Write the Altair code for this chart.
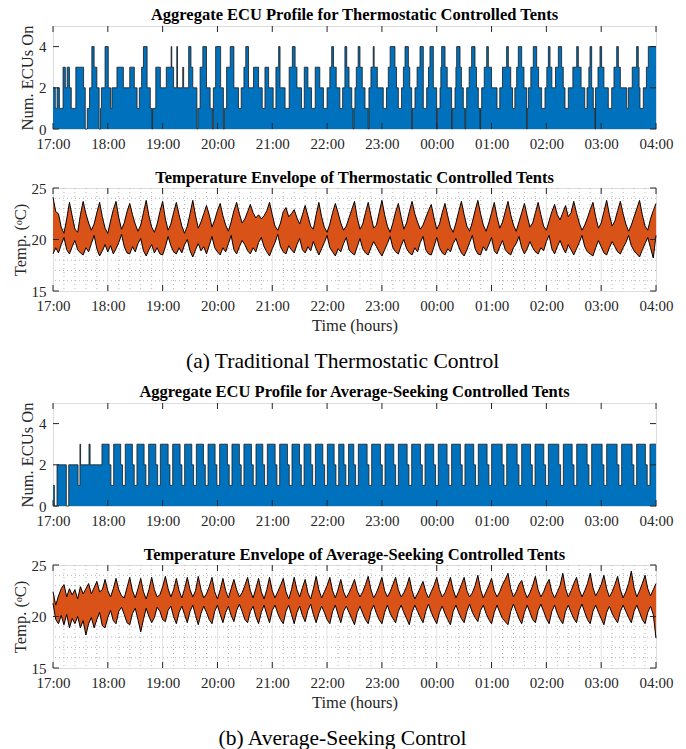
import json
import altair as alt
import pandas as pd

# ---------------- data ----------------
hour_ticks = [0, 60, 120, 180, 240, 300, 360, 420, 480, 540, 600, 660]
hour_labels = ["17:00", "18:00", "19:00", "20:00", "21:00", "22:00",
               "23:00", "00:00", "01:00", "02:00", "03:00", "04:00"]
ecu_ticks = [0, 2, 4]
temp_ticks = [15, 20, 25]
minor_x = [m for m in range(12, 660, 12) if m % 60]
minor_y = [16, 17, 18, 19, 21, 22, 23, 24]

titles = ["Aggregate ECU Profile for Thermostatic Controlled Tents",
          "Temperature Envelope of Thermostatic Controlled Tents",
          "Aggregate ECU Profile for Average-Seeking Controlled Tents",
          "Temperature Envelope of Average-Seeking Controlled Tents"]
captions = ["(a) Traditional Thermostatic Control", "(b) Average-Seeking Control"]

# ECU profile (a): change times (minutes after 17:00) and number of ECUs on
ecu_a_t = [0, 2.5, 4.5, 7, 11, 13.5, 15.5, 18, 20, 25, 33.5, 35.3, 37.5, 40, 42.5, 45, 48, 50.5, 52, 53,
           57, 60.5, 63, 64.5, 70, 77, 84, 89, 92, 94.5, 97, 99, 103, 106.5, 108.3, 109, 112.5, 117.5,
           124, 129.3, 130, 132, 135.5, 136.3, 142, 143, 148.5, 151, 153, 157.5, 158.5, 161, 164, 168,
           172, 174.5, 175.5, 178, 183.5, 186.5, 187.5, 190, 194, 198, 203, 206, 209, 211, 214, 219.5,
           225, 229, 232, 236, 241, 244, 247, 248.5, 254, 258.5, 262, 265, 267, 272, 275, 279, 283, 287,
           292, 296, 300, 303, 305, 307, 310, 314, 317, 319.5, 321.5, 324, 327, 328.5, 329.3, 330.5, 332,
           334, 336, 338.5, 341.5, 345, 345.8, 348, 350.5, 351.5, 355, 361.5, 365, 367, 369, 374.3, 376,
           378, 381.5, 383.5, 385.3, 389, 390.5, 392.6, 393.3, 396.2, 398.5, 401.7, 405.3, 409, 411,
           412.6, 416.3, 419.9, 420.6, 423.6, 424.5, 425.4, 429.1, 431.5, 436.3, 437, 440, 441, 441.8,
           445.5, 447, 449.1, 451, 451.7, 452.8, 455.5, 458.2, 461.9, 463.5, 465.5, 467.4, 468, 469.2,
           472, 474.7, 476.5, 480, 486, 489, 492, 496.5, 498.4, 501, 503, 505.5, 507.5, 509.3, 513,
           515.5, 518.4, 519, 520.3, 523, 525.7, 529.4, 531.5, 534.8, 538.5, 540.5, 542.2, 544, 546,
           550, 553.1, 556.7, 558.5, 560.4, 564, 569, 573.2, 575, 578, 582, 584.5, 586.5, 587.8, 589.6,
           591.4, 593.2, 593.8, 596.5, 598.7, 600.5, 603, 607.8, 611.5, 614, 617, 618.8, 621, 627.9,
           629.7, 634, 638.8, 640.6, 641.5, 642.5, 646.1, 649.5, 651.6]
ecu_a_v = [2, 1, 2, 1, 3, 2, 3, 2, 1, 3, 2, 0, 1, 2, 4, 3, 2, 0, 1, 2,
           4, 2, 1, 2, 3, 2, 3, 2, 1, 2, 3, 4, 2, 1, 0, 1, 3, 2,
           3, 4, 3, 2, 4, 2, 3, 2, 4, 3, 2, 0, 1, 3, 4, 2,
           1, 0, 2, 4, 2, 0, 1, 3, 4, 2, 1, 2, 3, 4, 2, 3,
           2, 1, 3, 2, 1, 3, 4, 2, 1, 3, 4, 3, 2, 1, 3, 2, 1, 3,
           2, 1, 2, 3, 4, 3, 2, 1, 2, 4, 3, 2, 1, 0, 1, 2, 3,
           4, 3, 2, 1, 0, 2, 3, 4, 3, 2, 1, 2, 3, 4, 3, 2,
           1, 2, 3, 4, 3, 2, 0, 1, 2, 3, 4, 1, 2, 3,
           4, 2, 0, 1, 2, 3, 4, 3, 2, 0, 1, 2, 3, 4,
           3, 2, 1, 0, 1, 2, 3, 4, 3, 2, 1, 0, 1, 2,
           3, 4, 3, 2, 1, 2, 3, 4, 3, 2, 1, 2, 3, 4, 3,
           2, 0, 1, 2, 3, 4, 3, 2, 1, 2, 3, 4, 3, 2,
           3, 4, 3, 2, 1, 2, 3, 4, 3, 2, 1, 2, 3, 4, 2,
           1, 0, 2, 3, 4, 3, 2, 1, 2, 3, 4, 3, 2, 1,
           2, 3, 4, 3, 2, 1, 2, 3, 4]

# Temperature envelope (a): upper / lower bound every 3 minutes from 17:00 (deg C)
temp_a_hi = [24.1, 22.7, 22.5, 21.2, 20.6, 22.0, 23.6, 22.3, 21.0, 20.7, 22.4, 23.7, 22.5, 21.6, 20.9, 21.5, 22.6, 23.6, 22.2, 21.1,
             20.6, 21.8, 22.9, 23.7, 22.1, 21.0, 21.6, 22.7, 23.5, 22.4, 21.5, 20.8, 21.4, 22.6, 23.8, 22.3, 21.2, 20.7, 21.5, 22.7,
             23.7, 22.0, 20.9, 21.5, 22.6, 23.6, 22.4, 21.3, 20.6, 21.3, 22.5, 23.8, 22.3, 21.1, 21.7, 22.5, 23.3, 22.4, 21.2, 21.9,
             22.8, 23.5, 22.3, 21.4, 20.8, 21.7, 22.8, 23.6, 22.5, 21.6, 22.0, 22.7, 23.4, 22.6, 22.1, 22.4, 22.0, 22.3, 22.8, 23.6,
             22.4, 21.3, 20.9, 21.6, 22.7, 23.1, 22.2, 22.5, 22.9, 22.1, 21.5, 22.4, 23.3, 22.3, 21.3, 21.0, 22.4, 23.6, 22.2, 21.2,
             20.7, 21.5, 22.6, 23.5, 22.6, 21.6, 20.9, 21.3, 22.1, 22.9, 23.7, 22.1, 21.0, 21.5, 22.6, 23.6, 22.3, 21.1, 21.4, 22.6,
             23.8, 22.4, 21.3, 20.7, 21.6, 22.7, 23.5, 22.2, 21.0, 21.6, 22.7, 23.7, 22.5, 21.7, 21.0, 21.4, 22.1, 22.8, 23.4, 22.1,
             21.0, 21.5, 22.6, 23.5, 22.3, 21.2, 20.7, 21.6, 22.7, 23.7, 22.4, 21.3, 20.8, 21.7, 22.8, 23.8, 22.5, 21.4, 20.8, 21.6,
             22.6, 23.6, 22.2, 21.1, 21.7, 22.7, 23.7, 22.4, 21.4, 20.8, 21.7, 22.6, 23.5, 22.3, 21.2, 21.6, 22.6, 23.6, 22.4, 21.3,
             20.9, 21.8, 22.7, 23.4, 22.4, 21.9, 22.6, 23.3, 22.2, 22.6, 23.7, 22.6, 21.6, 20.9, 21.4, 22.1, 22.9, 23.6, 22.2, 21.1,
             21.6, 22.7, 23.8, 22.4, 21.3, 21.8, 22.8, 23.7, 22.5, 21.5, 20.8, 21.4, 22.2, 23.0, 23.8, 22.4, 21.3, 20.9, 22.0, 22.8,
             23.5]
temp_a_lo = [18.6, 19.2, 18.7, 19.5, 20.2, 19.0, 18.6, 19.3, 19.9, 19.0, 18.7, 18.5, 19.2, 18.8, 19.6, 20.4, 19.1, 18.4, 18.9, 19.5,
             18.8, 19.4, 18.6, 19.1, 19.7, 20.5, 19.3, 18.7, 18.6, 19.3, 18.8, 19.6, 20.1, 18.9, 18.4, 19.0, 19.5, 18.7, 19.2, 18.6,
             18.5, 19.3, 20.3, 19.4, 18.8, 18.6, 19.2, 18.7, 19.5, 20.0, 18.9, 18.3, 19.0, 19.6, 18.9, 19.3, 18.6, 19.4, 20.3, 19.2,
             18.8, 18.5, 19.2, 18.8, 19.6, 20.4, 19.0, 18.6, 19.3, 19.9, 19.5, 18.9, 18.6, 19.2, 18.8, 19.7, 20.2, 19.3, 18.8, 18.4,
             19.1, 19.7, 20.5, 19.3, 18.8, 18.6, 19.4, 19.0, 18.7, 19.5, 20.1, 19.0, 18.7, 19.3, 18.9, 19.8, 19.1, 18.5, 19.1, 19.7,
             20.4, 19.2, 18.8, 18.4, 19.1, 18.8, 19.6, 20.2, 19.0, 18.7, 18.5, 19.3, 20.1, 19.1, 18.7, 18.5, 19.2, 19.8, 19.3, 18.8,
             18.4, 19.0, 19.6, 20.3, 19.2, 18.8, 18.6, 19.4, 20.0, 19.1, 18.7, 18.5, 19.2, 18.8, 19.7, 20.3, 19.0, 18.6, 18.5, 19.3,
             20.2, 19.2, 18.7, 18.5, 19.1, 18.8, 19.6, 20.1, 19.3, 18.7, 18.4, 19.0, 19.7, 20.4, 19.1, 18.6, 18.5, 19.3, 18.9, 19.5,
             20.2, 18.9, 18.6, 19.3, 19.9, 19.0, 18.7, 18.5, 19.2, 19.6, 20.3, 19.2, 18.6, 19.1, 19.8, 19.2, 18.8, 18.6, 19.2, 18.9,
             19.8, 20.4, 19.1, 18.6, 19.3, 19.9, 19.2, 18.7, 19.5, 19.0, 18.5, 19.1, 19.7, 20.4, 19.3, 18.8, 18.6, 18.4, 19.2, 19.9,
             19.3, 18.7, 18.5, 19.2, 19.8, 19.3, 18.8, 18.6, 19.2, 19.7, 20.4, 19.4, 18.9, 18.6, 18.3, 19.0, 19.6, 20.2, 19.2, 18.2,
             20.4]

# ECU profile (b): change times and number of ECUs on
ecu_b_t = [0, 1.5, 4.4, 14.6, 17.2, 27.4, 29.5, 30.2, 39.4, 40.6,
           53.6, 61.4, 63.4, 66.4, 74.1, 76.1, 79.1, 86.9, 88.9, 91.9, 99.7, 101.7,
           104.7, 112.5, 114.5, 117.5, 126.0, 128.0, 131.0, 139.1, 141.1, 144.1, 151.9, 153.9,
           156.9, 164.7, 166.7, 169.7, 177.4, 179.4, 182.4, 190.9, 192.9, 195.9, 204.0, 206.0,
           209.0, 217.2, 219.2, 222.2, 229.6, 231.6, 234.6, 243.1, 245.1, 248.1, 256.6, 258.6,
           261.6, 269.8, 271.8, 274.8, 282.2, 284.2, 287.2, 295.3, 297.3, 300.3, 307.7, 309.7,
           312.7, 318.5, 320.5, 323.5, 329.2, 331.2, 334.2, 343.8, 345.8, 348.8, 358.4, 360.4,
           363.4, 373.0, 375.0, 378.0, 387.6, 389.6, 392.6, 402.2, 404.2, 407.2, 416.7, 418.7,
           421.7, 431.3, 433.3, 436.3, 445.9, 447.9, 450.9, 460.5, 462.5, 465.5, 475.1, 477.1,
           480.1, 491.6, 493.6, 496.6, 508.0, 510.0, 513.0, 522.6, 524.6, 527.6, 537.2, 539.2,
           542.2, 553.6, 555.6, 558.6, 568.2, 570.2, 573.2, 584.6, 586.6, 589.6, 601.0, 603.0,
           606.0, 617.4, 619.4, 622.4, 633.8, 635.8, 638.8, 648.4, 650.4, 653.4]
ecu_b_v = [1, 0, 2, 0, 2, 1, 3, 2, 3, 2,
           3, 2, 1, 3, 2, 1, 3, 2, 1, 3, 2, 1,
           3, 2, 1, 3, 2, 1, 3, 2, 1, 3, 2, 1,
           3, 2, 1, 3, 2, 1, 3, 2, 1, 3, 2, 1,
           3, 2, 1, 3, 2, 1, 3, 2, 1, 3, 2, 1,
           3, 2, 1, 3, 2, 1, 3, 2, 1, 3, 2, 1,
           3, 2, 1, 3, 2, 1, 3, 2, 1, 3, 2, 1,
           3, 2, 1, 3, 2, 1, 3, 2, 1, 3, 2, 1,
           3, 2, 1, 3, 2, 1, 3, 2, 1, 3, 2, 1,
           3, 2, 1, 3, 2, 1, 3, 2, 1, 3, 2, 1,
           3, 2, 1, 3, 2, 1, 3, 2, 1, 3, 2, 1,
           3, 2, 1, 3, 2, 1, 3, 2, 1, 3]

# Temperature envelope (b): upper / lower bound every 3 minutes from 17:00 (deg C)
temp_b_hi = [22.4, 21.1, 22.0, 22.7, 23.1, 21.9, 22.7, 22.1, 22.6, 21.7, 22.9, 22.2, 22.7, 23.2, 22.2, 22.8, 23.4, 22.4, 22.6, 23.6,
             22.5, 21.9, 22.7, 23.7, 22.6, 22.0, 21.8, 22.8, 23.8, 22.5, 21.8, 22.7, 23.7, 22.4, 21.7, 22.6, 23.8, 22.6, 21.9, 22.1,
             22.9, 23.9, 22.7, 21.9, 22.6, 23.7, 22.5, 21.8, 22.7, 23.8, 22.6, 21.9, 22.5, 23.9, 22.6, 21.8, 22.2, 22.9, 23.8, 22.4,
             21.7, 22.6, 23.7, 22.5, 21.8, 22.7, 23.6, 22.6, 21.9, 22.3, 23.0, 23.8, 22.5, 21.8, 22.7, 23.7, 22.4, 21.7, 22.6, 23.8,
             22.5, 21.8, 22.4, 23.0, 23.7, 22.4, 21.7, 22.6, 23.8, 22.6, 21.9, 22.8, 23.6, 22.3, 21.7, 22.7, 23.9, 22.6, 21.8, 22.4,
             23.0, 23.8, 22.5, 21.8, 22.6, 23.6, 22.4, 21.8, 22.3, 22.9, 23.6, 22.5, 21.9, 22.4, 23.1, 23.9, 22.6, 21.8, 22.3, 23.0,
             23.8, 22.5, 21.9, 22.4, 23.1, 23.8, 22.6, 21.9, 22.3, 22.9, 23.8, 22.5, 21.7, 22.2, 22.8, 23.4, 22.4, 21.8, 22.4, 23.0,
             23.8, 22.6, 21.9, 22.3, 23.0, 23.8, 22.6, 21.8, 22.4, 23.1, 23.8, 22.5, 21.9, 22.3, 23.0, 24.0, 22.6, 21.8, 22.4, 23.0,
             23.7, 22.5, 21.9, 22.4, 23.1, 23.6, 24.2, 22.7, 21.9, 22.4, 23.1, 23.5, 22.5, 21.8, 22.3, 23.0, 23.9, 22.6, 21.9, 22.4,
             23.1, 23.6, 22.4, 21.8, 22.4, 23.0, 24.2, 22.7, 21.9, 22.5, 23.2, 23.8, 22.6, 21.9, 22.5, 23.2, 24.2, 22.8, 22.0, 22.5,
             23.1, 24.0, 22.7, 21.9, 22.4, 23.1, 23.9, 22.6, 21.8, 22.4, 23.2, 24.4, 22.8, 21.9, 22.5, 23.2, 24.0, 22.7, 22.0, 22.6,
             23.2]
temp_b_lo = [21.3, 19.7, 19.3, 20.1, 19.2, 20.2, 18.9, 19.8, 19.3, 20.0, 18.9, 19.6, 18.2, 19.3, 19.9, 18.9, 19.7, 20.4, 19.1, 18.9,
             19.9, 20.6, 19.6, 19.3, 20.5, 20.9, 20.2, 19.4, 19.2, 20.3, 20.8, 19.7, 18.5, 19.7, 20.8, 20.0, 19.4, 19.9, 20.9, 20.5,
             19.7, 19.5, 20.6, 21.0, 20.0, 19.3, 20.4, 21.0, 20.2, 19.4, 20.5, 21.1, 20.1, 19.2, 20.3, 21.0, 20.4, 19.7, 19.3, 20.5,
             21.1, 20.2, 19.4, 20.4, 21.0, 20.1, 19.5, 20.6, 21.2, 20.5, 19.7, 19.4, 20.5, 21.0, 20.0, 19.3, 20.4, 21.1, 20.2, 19.4,
             20.6, 21.1, 20.3, 19.7, 19.3, 20.5, 21.1, 20.2, 19.3, 20.4, 21.0, 20.1, 19.5, 20.6, 21.2, 20.2, 19.4, 20.3, 21.0, 20.4,
             19.7, 19.3, 20.5, 21.1, 20.2, 19.4, 20.5, 21.0, 20.4, 19.8, 19.2, 20.4, 21.0, 20.3, 19.7, 19.3, 20.5, 21.1, 20.3, 19.7,
             19.3, 20.4, 21.1, 20.3, 19.8, 19.4, 20.5, 21.1, 20.4, 19.8, 19.2, 20.4, 21.1, 20.5, 19.9, 19.4, 20.5, 21.2, 20.4, 19.8,
             19.3, 20.4, 21.0, 20.3, 19.7, 19.2, 20.5, 21.1, 20.4, 19.8, 19.4, 20.5, 21.2, 20.4, 19.9, 19.5, 20.6, 21.1, 20.3, 19.7,
             19.3, 20.4, 21.1, 20.4, 19.8, 19.5, 19.2, 20.5, 21.2, 20.5, 19.8, 19.3, 20.4, 21.1, 20.4, 19.7, 19.4, 20.6, 21.2, 20.5,
             19.8, 19.3, 20.5, 21.1, 20.3, 19.7, 19.3, 20.5, 21.1, 20.4, 19.8, 19.4, 20.6, 21.2, 20.4, 19.7, 19.3, 20.5, 21.1, 20.4,
             19.8, 19.2, 20.4, 21.0, 20.3, 19.8, 19.4, 20.5, 21.1, 20.5, 19.9, 19.4, 20.5, 21.1, 20.4, 19.7, 19.3, 20.4, 21.0, 20.2,
             17.9]
temp_t = list(range(0, 661, 3))

# ---------------- styling ----------------
BLUE = "#0072BD"
ORANGE = "#D95319"
AX = "#262626"
FONT = "Liberation Serif"
W, H = 603, 103
TICK = 6
label_expr = f"{json.dumps(hour_labels)}[round(datum.value/60)]"
xscale = alt.Scale(domain=[0, 660], nice=False, zero=False)


def xaxis(title):
    kw = dict(values=hour_ticks, labelExpr=label_expr, tickSize=0, domain=False, grid=False,
              labelFont=FONT, labelFontSize=15, labelColor=AX, labelPadding=7, labelFlush=False,
              labelOverlap=False)
    if title:
        kw.update(title=title, titleFont=FONT, titleFontSize=16.5, titleFontWeight="normal",
                  titleColor=AX, titlePadding=4)
    else:
        kw.update(title=None)
    return alt.Axis(**kw)


def yaxis(title, values):
    return alt.Axis(values=values, tickSize=0, domain=False, grid=False, title=title,
                    labelFont=FONT, labelFontSize=15, labelColor=AX, labelPadding=7,
                    titleFont=FONT, titleFontSize=16.5, titleFontWeight="normal", titleColor=AX,
                    titlePadding=3)


def frame_ticks(xax, yax, ydomain, yvals):
    hx = pd.DataFrame({"h": hour_ticks})
    vy = pd.DataFrame({"k": yvals})
    X = alt.X("h:Q", scale=xscale, axis=xax)
    Y = alt.Y("k:Q", scale=alt.Scale(domain=ydomain, nice=False, zero=False), axis=yax)
    top = alt.Chart(hx).mark_rule(color=AX, strokeWidth=1).encode(x=X, y=alt.value(0), y2=alt.value(TICK))
    bot = alt.Chart(hx).mark_rule(color=AX, strokeWidth=1).encode(x=X, y=alt.value(H), y2=alt.value(H - TICK))
    left = alt.Chart(vy).mark_rule(color=AX, strokeWidth=1).encode(y=Y, x=alt.value(0), x2=alt.value(TICK))
    right = alt.Chart(vy).mark_rule(color=AX, strokeWidth=1).encode(y=Y, x=alt.value(W), x2=alt.value(W - TICK))
    return [top, bot, left, right]


def title_params(text, offset):
    return alt.TitleParams(text, font=FONT, fontSize=16.5, fontWeight="bold", color="black",
                           anchor="middle", offset=offset, frame="group")


def ecu_panel(t, v, title, xtitle):
    df = pd.DataFrame({"t": t + [660], "v": v + [v[-1]]})
    xax = xaxis(xtitle)
    yax = yaxis("Num. ECUs On", ecu_ticks)
    X = alt.X("t:Q", scale=xscale, axis=xax)
    Y = alt.Y("v:Q", scale=alt.Scale(domain=[0, 5], nice=False), axis=yax)
    area = alt.Chart(df).mark_area(interpolate="step-after", color=BLUE, opacity=1).encode(x=X, y=Y)
    line = alt.Chart(df).mark_line(interpolate="step-after", color="#1a1a1a", strokeWidth=0.8).encode(x=X, y=Y)
    return alt.layer(area, line, *frame_ticks(xax, yax, [0, 5], ecu_ticks)).properties(
        width=W, height=H, title=title_params(title, 2))


def temp_panel(hi, lo, title, xtitle):
    df = pd.DataFrame({"t": temp_t, "hi": hi, "lo": lo})
    xax = xaxis(xtitle)
    yax = yaxis("Temp. (\u1d52C)", temp_ticks)
    ysc = alt.Scale(domain=[15, 25], nice=False, zero=False)
    X = alt.X("t:Q", scale=xscale, axis=xax)
    mx = pd.DataFrame({"m": minor_x})
    my = pd.DataFrame({"g": minor_y})
    hx = pd.DataFrame({"h": hour_ticks[1:-1]})
    gy = pd.DataFrame({"g": [20]})
    g_minor_x = alt.Chart(mx).mark_rule(color="#b5b5b5", strokeWidth=1, strokeDash=[1, 3]).encode(
        x=alt.X("m:Q", scale=xscale, axis=xax))
    g_minor_y = alt.Chart(my).mark_rule(color="#b5b5b5", strokeWidth=1, strokeDash=[1, 3]).encode(
        y=alt.Y("g:Q", scale=ysc, axis=yax))
    g_major_x = alt.Chart(hx).mark_rule(color="#e3e3e3", strokeWidth=1).encode(
        x=alt.X("h:Q", scale=xscale, axis=xax))
    g_major_y = alt.Chart(gy).mark_rule(color="#e3e3e3", strokeWidth=1).encode(
        y=alt.Y("g:Q", scale=ysc, axis=yax))
    area = alt.Chart(df).mark_area(color=ORANGE, opacity=1).encode(
        x=X, y=alt.Y("lo:Q", scale=ysc, axis=yax), y2="hi:Q")
    l_hi = alt.Chart(df).mark_line(color="black", strokeWidth=1).encode(
        x=X, y=alt.Y("hi:Q", scale=ysc, axis=yax))
    l_lo = alt.Chart(df).mark_line(color="black", strokeWidth=1).encode(
        x=X, y=alt.Y("lo:Q", scale=ysc, axis=yax))
    return alt.layer(g_minor_x, g_minor_y, g_major_x, g_major_y, area, l_hi, l_lo,
                     *frame_ticks(xax, yax, [15, 25], temp_ticks)).properties(
        width=W, height=H, title=title_params(title, -5.5))


def caption(text):
    return alt.TitleParams(text, orient="bottom", font=FONT, fontSize=21.5, fontWeight="normal",
                           color="black", anchor="middle", offset=17)


group_a = alt.vconcat(ecu_panel(ecu_a_t, ecu_a_v, titles[0], None),
                      temp_panel(temp_a_hi, temp_a_lo, titles[1], "Time (hours)"),
                      spacing=17, title=caption(captions[0]))
group_b = alt.vconcat(ecu_panel(ecu_b_t, ecu_b_v, titles[2], None),
                      temp_panel(temp_b_hi, temp_b_lo, titles[3], "Time (hours)"),
                      spacing=17, title=caption(captions[1]))

chart = alt.vconcat(group_a, group_b, spacing=10).properties(
    padding={"left": 11, "top": 6, "right": 5, "bottom": 5}
).configure_view(stroke=AX, strokeWidth=1).configure(background="white")

chart.save("out.html", embed_options={"renderer": "svg", "actions": False})
